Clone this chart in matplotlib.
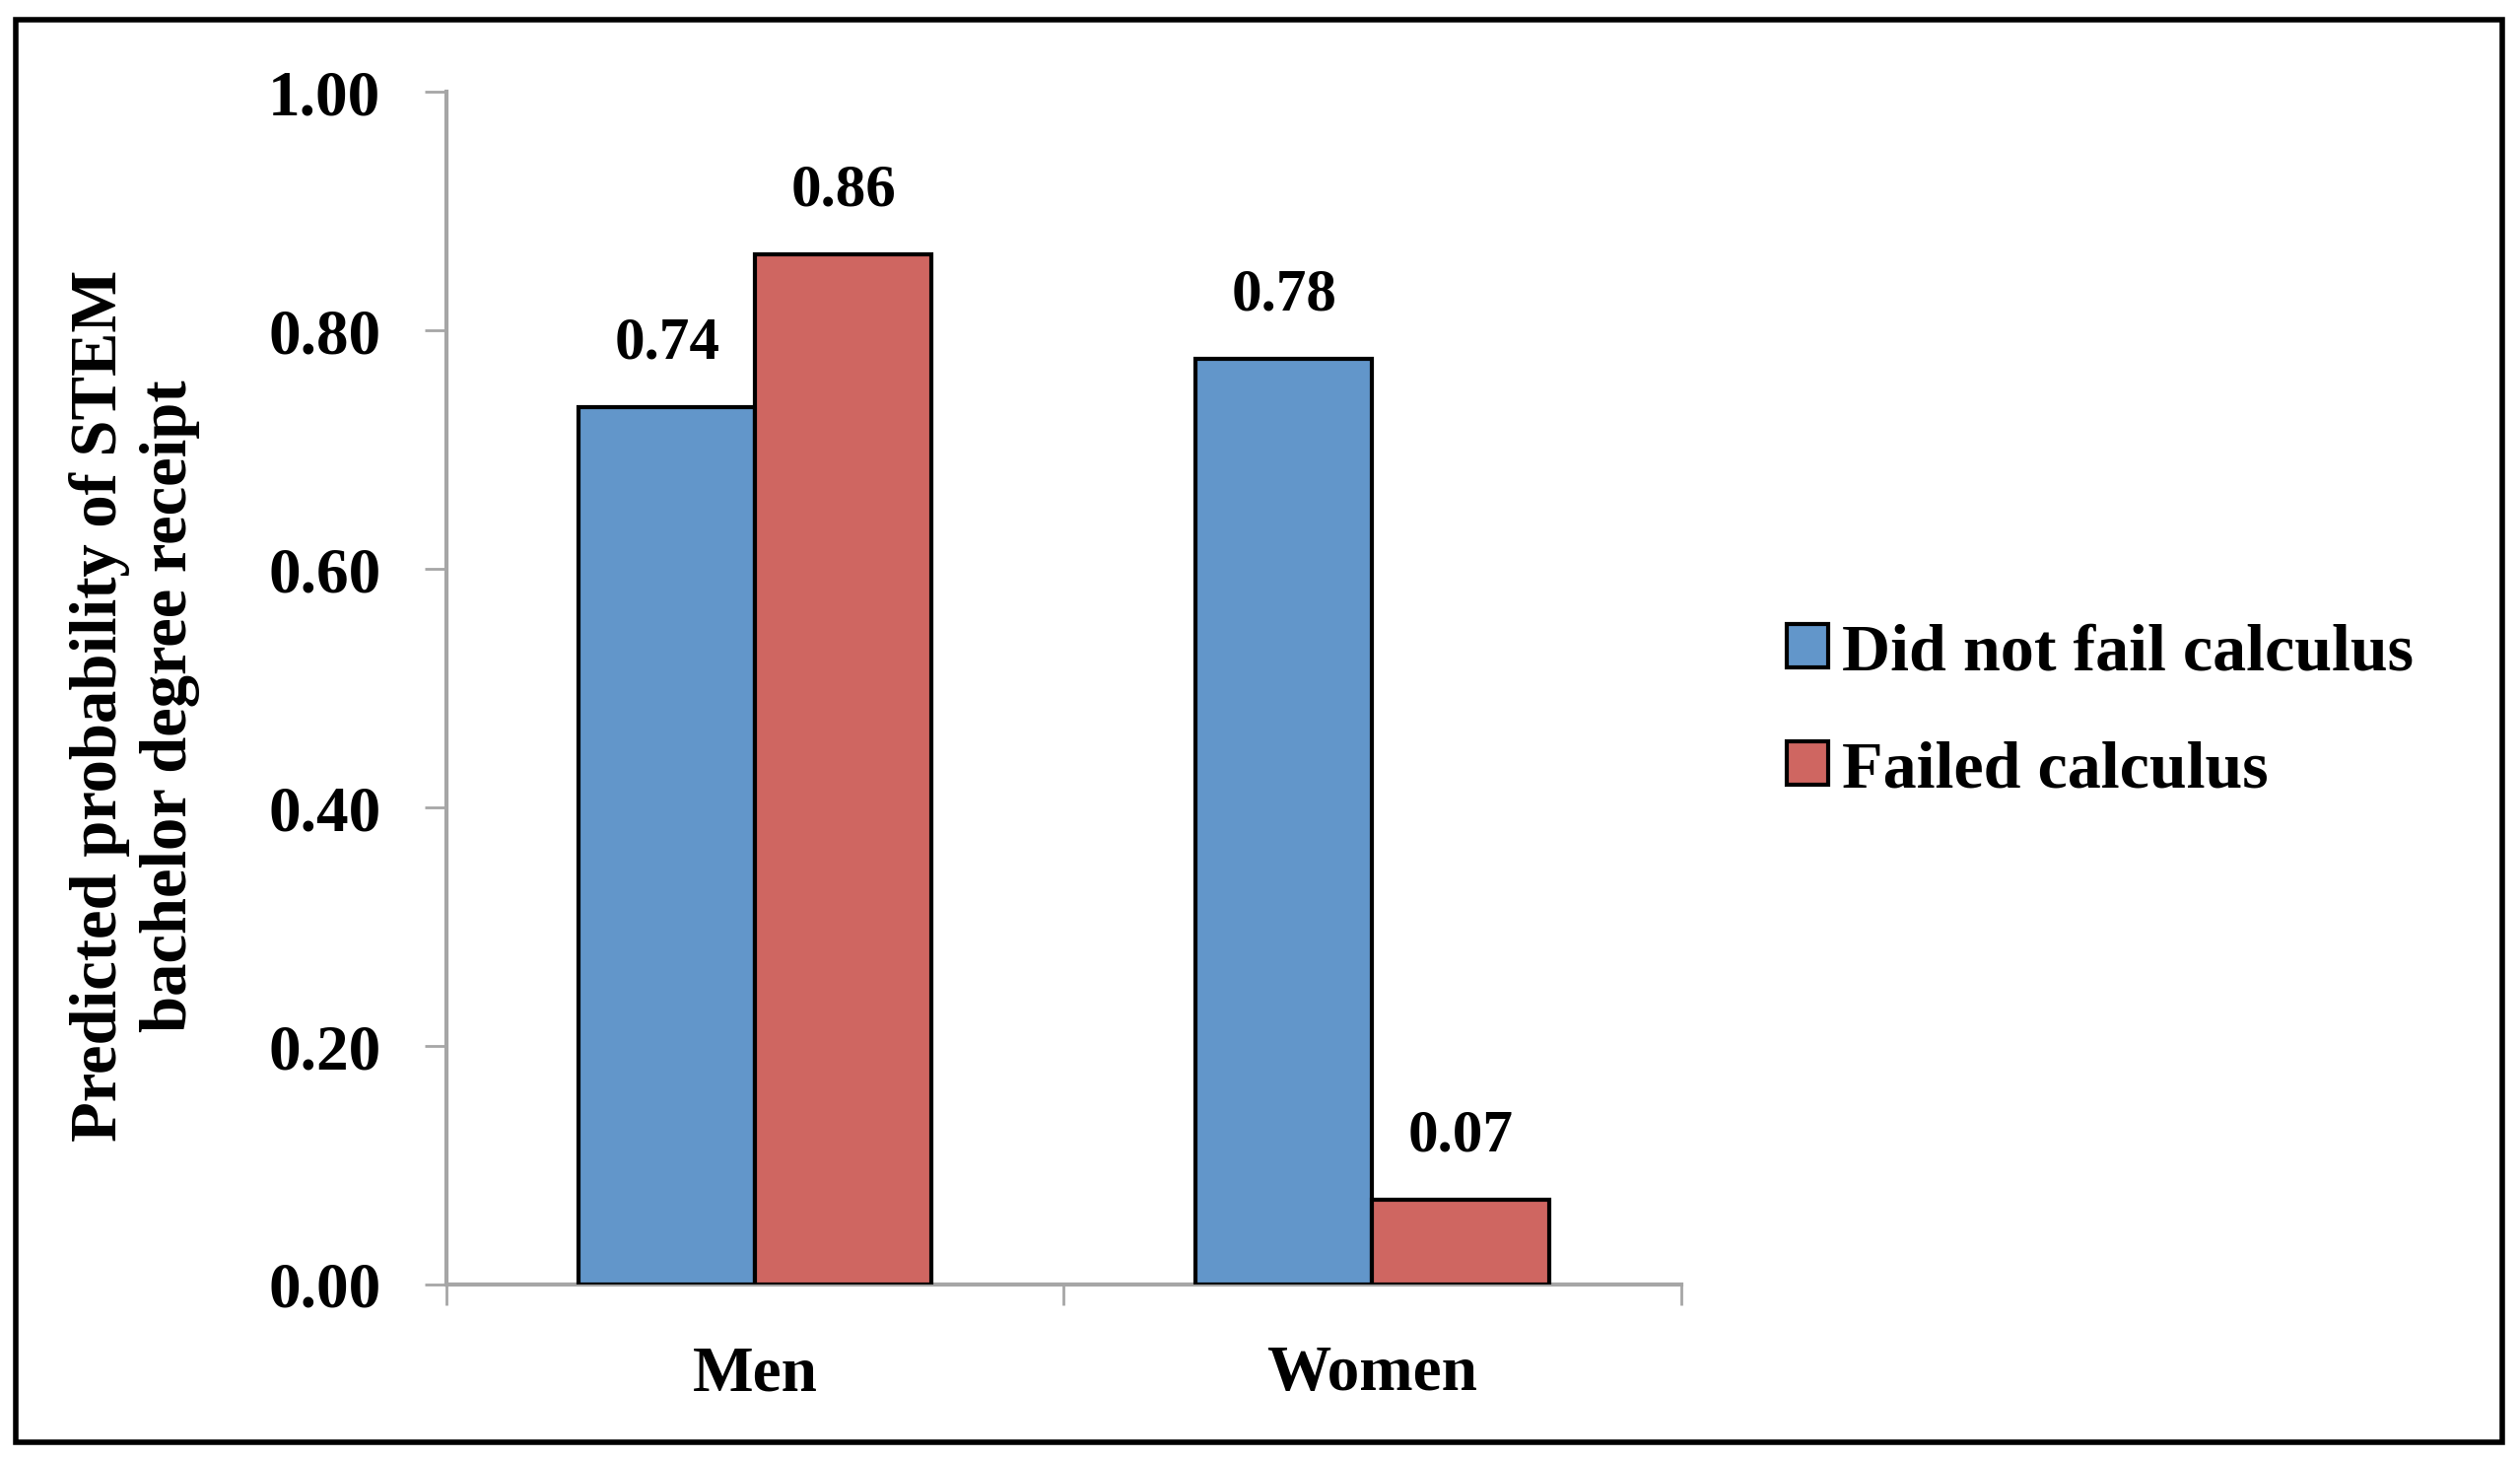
import numpy as np
import matplotlib
matplotlib.use('Agg')
from matplotlib import pyplot as plt
from matplotlib.patches import Rectangle

plt.rcParams['font.family'] = ['Liberation Serif', 'DejaVu Serif']
plt.rcParams['font.weight'] = 'bold'

groups = ['Men', 'Women']
series = ['Did not fail calculus', 'Failed calculus']
did_not_fail = [0.736, 0.776]
failed = [0.864, 0.071]
value_labels = [['0.74', '0.78'], ['0.86', '0.07']]
yticks = [0.0, 0.2, 0.4, 0.6, 0.8, 1.0]
colors = ['#6296CA', '#CF6661']

#%%
fig = plt.figure(figsize=(25.57, 14.8), dpi=100)
ax = fig.add_axes([0.1772, 0.1196, 0.667 - 0.1772, 0.937 - 0.1196])

x = np.arange(len(groups))
w = 0.286
for i, (vals, col) in enumerate(zip([did_not_fail, failed], colors)):
    pos = x + (i - 0.5) * w
    ax.bar(pos, vals, width=w, color=col, edgecolor='black', linewidth=3,
           label=series[i], zorder=3)
    for p, v, txt in zip(pos, vals, value_labels[i]):
        ax.text(p, v + 0.03, txt, ha='center', va='bottom', fontsize=44, fontweight='bold')

ax.set_xlim(-0.5, 1.5)
ax.set_ylim(0, 1.0)
ax.set_yticks(yticks)
ax.set_yticklabels([f'{t:.2f}' for t in yticks])
ax.set_xticks([-0.5, 0.5, 1.5])
ax.set_xticklabels([])
ax.set_xticks(x, minor=True)
ax.set_xticklabels(groups, minor=True)
ax.tick_params(axis='x', which='minor', length=0, pad=44, labelsize=47)
ax.tick_params(axis='x', which='major', length=15, width=2, color='#A6A6A6', direction='out')
ax.tick_params(axis='y', length=16, width=2, color='#A6A6A6', direction='out', pad=32, labelsize=47)

for s in ['top', 'right']:
    ax.spines[s].set_visible(False)
for s in ['left', 'bottom']:
    ax.spines[s].set_color('#A6A6A6')
    ax.spines[s].set_linewidth(3)

ax.set_ylabel('Predicted probability of STEM\nbachelor degree receipt', fontsize=48,
              fontweight='bold', linespacing=1.2)
ax.yaxis.set_label_coords(-0.2, 0.485)

fig.legend(loc='center left', bbox_to_anchor=(0.709, 0.512), frameon=False,
           fontsize=49, handlelength=0.62, handleheight=0.62, handletextpad=0.2,
           labelspacing=0.85, borderpad=0, borderaxespad=0)

fig.patches.append(Rectangle((16 / 2557, 1 - 1463 / 1480), (2539 - 16) / 2557,
                             (1463 - 20) / 1480, transform=fig.transFigure,
                             fill=False, edgecolor='black', linewidth=4))

fig.savefig('out.png', dpi=100)
